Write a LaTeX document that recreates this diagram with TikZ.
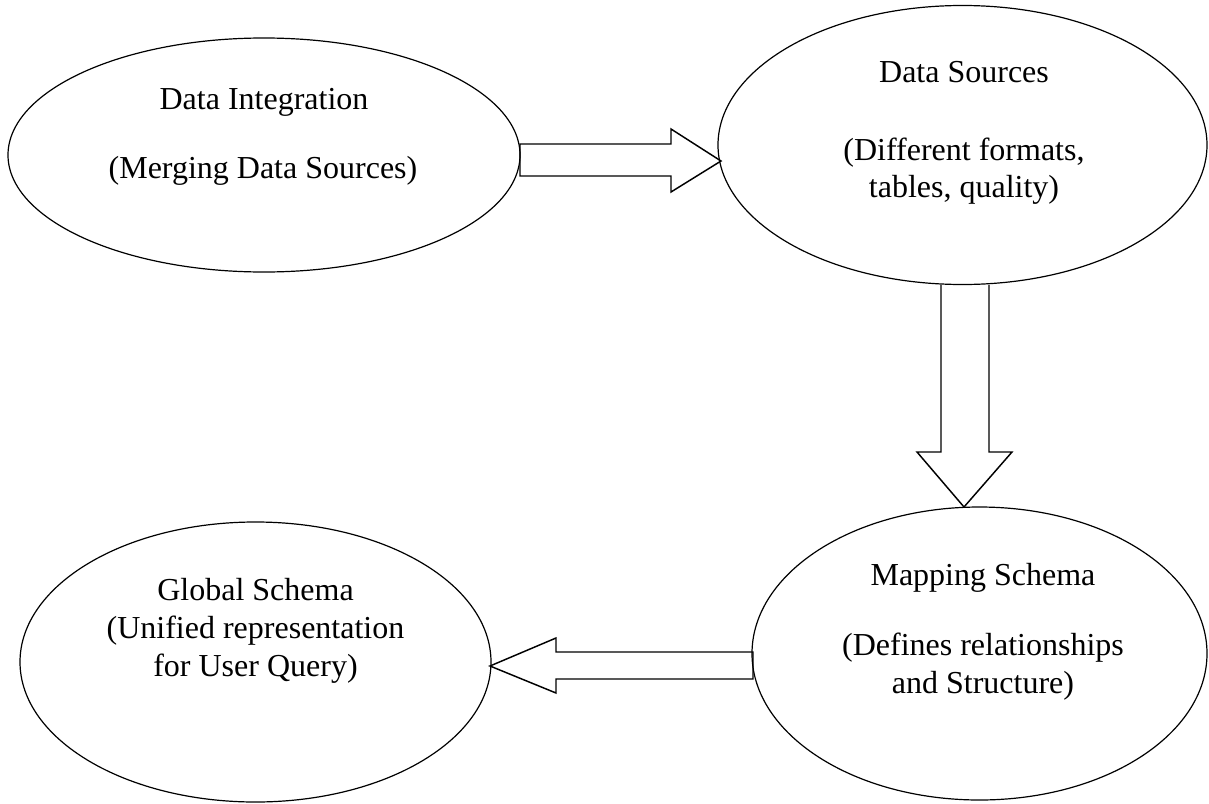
\documentclass[tikz,border=0pt]{standalone}
\usepackage{fontspec}
\setmainfont{Liberation Serif}
\usetikzlibrary{shapes.geometric}
\begin{document}
\begin{tikzpicture}[x=0.75pt,y=-0.75pt,
  oval/.style={draw,ellipse,line width=0.9pt,inner sep=0pt},
  txt/.style={anchor=base,inner sep=0pt,font=\fontsize{24pt}{28pt}\selectfont},
  blockarrow/.style={draw,line width=1.1pt,line join=miter}]
\useasboundingbox (0,0) rectangle (1209,803);
% ellipses
\node[oval,minimum width=384pt,minimum height=175.5pt] (di) at (264,155) {};
\node[oval,minimum width=366.75pt,minimum height=209.25pt] (ds) at (962.5,145) {};
\node[oval,minimum width=341.25pt,minimum height=219.75pt] (ms) at (979.5,653.5) {};
\node[oval,minimum width=353.25pt,minimum height=210pt] (gs) at (255.5,662) {};
% texts
\node[txt] (di1) at (264,109) {Data Integration};
\node[txt] (di2) at (263,178) {(Merging Data Sources)};
\node[txt] (ds1) at (964,82) {Data Sources};
\node[txt] (ds2) at (964,160) {(Different formats,};
\node[txt] (ds3) at (964,197) {tables, quality)};
\node[txt] (ms1) at (983,585) {Mapping Schema};
\node[txt] (ms2) at (983,655) {(Defines relationships};
\node[txt] (ms3) at (983,693) {and Structure)};
\node[txt] (gs1) at (255.5,600) {Global Schema};
\node[txt] (gs2) at (255.5,638) {(Unified representation};
\node[txt] (gs3) at (255.5,676) {for User Query)};
% block arrows
\coordinate (tipR) at (721,161);
\coordinate (tipD) at (964,507);
\coordinate (tipL) at (490,666);
\draw[blockarrow] (520,144) -- (671,144) -- (671,129) -- (tipR) -- (671,192) -- (671,176) -- (520,176) -- cycle;
\draw[blockarrow] (941,285) -- (941,452) -- (917,452) -- (tipD) -- (1012,452) -- (989,452) -- (989,285);
\draw[blockarrow] (753,652) -- (556,652) -- (556,638) -- (tipL) -- (556,693) -- (556,679) -- (753,679) -- cycle;
\end{tikzpicture}
\end{document}
